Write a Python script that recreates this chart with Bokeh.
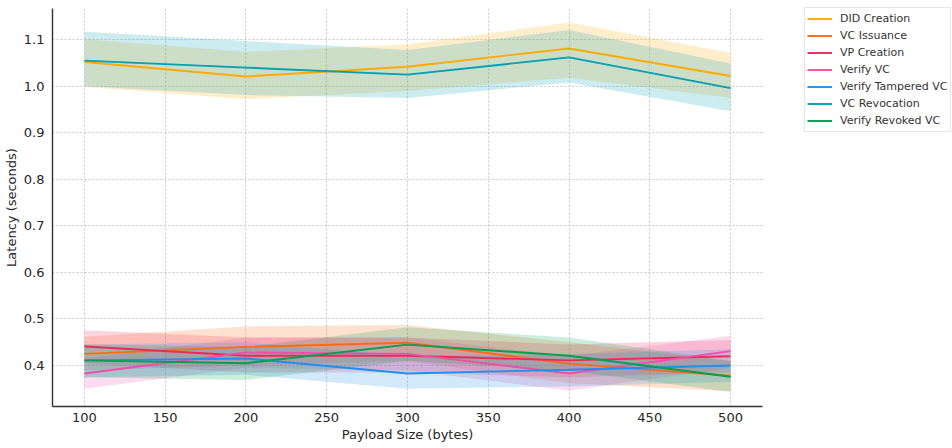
from bokeh.plotting import figure
from bokeh.models import Legend, LegendItem, FixedTicker, Range1d, NumeralTickFormatter
from bokeh.embed import file_html
from bokeh.resources import INLINE

payload = [100, 200, 300, 400, 500]

series_names = ["DID Creation", "VC Issuance", "VP Creation", "Verify VC",
                "Verify Tampered VC", "VC Revocation", "Verify Revoked VC"]
colors = ["#FFAA00", "#FF6A12", "#F0285A", "#F04FA8", "#1E90F0", "#00A0B4", "#00A050"]

did_mean = [1.052, 1.021, 1.042, 1.081, 1.022]
did_low = [0.999, 0.972, 0.990, 1.018, 0.975]
did_high = [1.101, 1.074, 1.090, 1.137, 1.072]

vci_mean = [0.425, 0.440, 0.449, 0.404, 0.378]
vci_low = [0.390, 0.400, 0.410, 0.362, 0.345]
vci_high = [0.462, 0.484, 0.487, 0.450, 0.410]

vpc_mean = [0.441, 0.421, 0.421, 0.411, 0.420]
vpc_low = [0.405, 0.385, 0.385, 0.375, 0.385]
vpc_high = [0.476, 0.460, 0.460, 0.445, 0.455]

vvc_mean = [0.383, 0.428, 0.425, 0.383, 0.431]
vvc_low = [0.350, 0.395, 0.390, 0.346, 0.395]
vvc_high = [0.415, 0.460, 0.460, 0.420, 0.464]

vtv_mean = [0.411, 0.415, 0.383, 0.391, 0.400]
vtv_low = [0.375, 0.380, 0.350, 0.355, 0.365]
vtv_high = [0.445, 0.450, 0.420, 0.425, 0.435]

vcr_mean = [1.055, 1.040, 1.025, 1.062, 0.996]
vcr_low = [1.000, 0.981, 0.975, 1.008, 0.946]
vcr_high = [1.117, 1.097, 1.078, 1.121, 1.049]

vrv_mean = [0.411, 0.405, 0.445, 0.421, 0.376]
vrv_low = [0.375, 0.369, 0.410, 0.389, 0.343]
vrv_high = [0.445, 0.440, 0.482, 0.460, 0.410]

means = [did_mean, vci_mean, vpc_mean, vvc_mean, vtv_mean, vcr_mean, vrv_mean]
lows = [did_low, vci_low, vpc_low, vvc_low, vtv_low, vcr_low, vrv_low]
highs = [did_high, vci_high, vpc_high, vvc_high, vtv_high, vcr_high, vrv_high]

x_ticks = [100, 150, 200, 250, 300, 350, 400, 450, 500]
y_ticks = [0.4, 0.5, 0.6, 0.7, 0.8, 0.9, 1.0, 1.1]

FONT = "DejaVu Sans"

p = figure(frame_width=710, frame_height=398, output_backend="svg", toolbar_location=None,
           x_range=Range1d(80.2, 519.8), y_range=Range1d(0.312, 1.167),
           min_border_left=45, min_border_right=181, min_border_top=8, min_border_bottom=38)
p.outline_line_color = None
p.background_fill_color = "white"
p.border_fill_color = "white"

for i in range(len(series_names)):
    p.varea(x=payload, y1=lows[i], y2=highs[i], fill_color=colors[i], fill_alpha=0.2)

items = []
for i, name in enumerate(series_names):
    r = p.line(payload, means[i], line_color=colors[i], line_width=1.9)
    items.append(LegendItem(label=name, renderers=[r]))

p.xaxis.ticker = FixedTicker(ticks=x_ticks)
p.yaxis.ticker = FixedTicker(ticks=y_ticks)
p.yaxis.formatter = NumeralTickFormatter(format="0.0")
for ax in (p.xaxis, p.yaxis):
    ax.major_tick_out = 0
    ax.major_tick_in = 0
    ax.minor_tick_out = 0
    ax.minor_tick_in = 0
    ax.axis_line_color = "#333333"
    ax.axis_line_width = 1.4
    ax.major_label_text_font = FONT
    ax.major_label_text_font_size = "13px"
    ax.major_label_text_color = "#262626"
    ax.axis_label_text_font = FONT
    ax.axis_label_text_font_size = "13px"
    ax.axis_label_text_font_style = "normal"
    ax.axis_label_text_color = "#262626"
p.xaxis.axis_label = "Payload Size (bytes)"
p.yaxis.axis_label = "Latency (seconds)"
p.xaxis.major_label_standoff = 6
p.yaxis.major_label_standoff = 8
p.xaxis.axis_label_standoff = 2
p.yaxis.axis_label_standoff = 2

for g in (p.xgrid, p.ygrid):
    g.grid_line_color = "#c8c8c8"
    g.grid_line_dash = "2 2"
    g.grid_line_width = 1

legend = Legend(items=items, location="top_left")
legend.margin = 0
legend.padding = 2
legend.spacing = 0
legend.glyph_width = 25
legend.glyph_height = 17
legend.label_height = 17
legend.label_standoff = 8
legend.label_text_font = FONT
legend.label_text_font_size = "11px"
legend.label_text_color = "#333333"
legend.border_line_color = "#cccccc"
legend.border_line_width = 1
legend.background_fill_alpha = 1
p.add_layout(legend, "right")
legend.location = (42, 274)

open("out.html", "w").write(file_html(p, INLINE))
